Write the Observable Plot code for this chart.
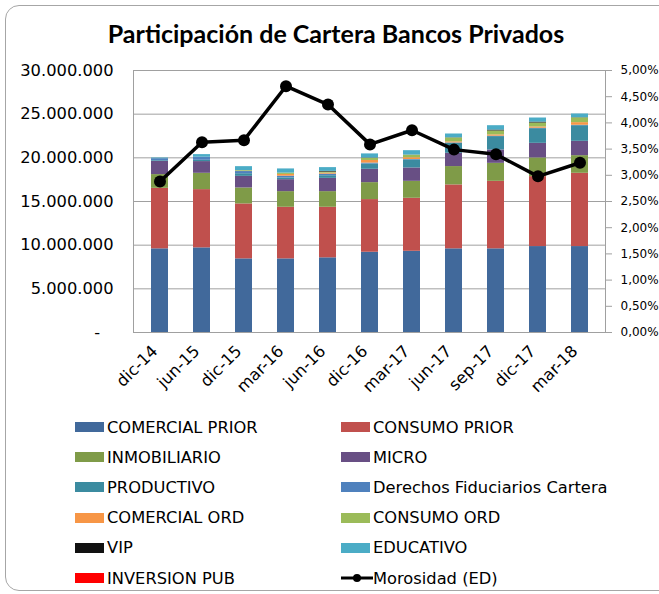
<!DOCTYPE html>
<html>
<head>
<meta charset="utf-8">
<script src="https://cdn.jsdelivr.net/npm/d3@7"></script>
<script src="https://cdn.jsdelivr.net/npm/@observablehq/plot@0.6"></script>
<style>
  html, body { margin: 0; padding: 0; background: #fff; }
  body { width: 659px; height: 594px; position: relative; overflow: hidden; font-family: "DejaVu Sans", sans-serif; }
  #frame { position: absolute; left: 5px; top: 5px; width: 670px; height: 586px; border: 1px solid #a6a6a6; border-radius: 14px; box-sizing: border-box; }
  #title { position: absolute; top: 18px; left: 0; width: 672px; text-align: center; font-family: Lato, sans-serif; font-weight: 700; font-size: 25px; line-height: 30px; color: #000; }
  #chart { position: absolute; top: 55px; left: 0; }
  #legend { position: absolute; top: 412px; left: 0; width: 659px; }
  .item { position: absolute; height: 30px; display: flex; align-items: center; font-size: 16.3px; color: #000; white-space: nowrap; }
  .sw { width: 29px; height: 10px; margin-right: 3px; }
</style>
</head>
<body>
<div id="frame"></div>
<div id="title">Participación de Cartera Bancos Privados</div>
<div id="chart"></div>
<div id="legend"></div>
<script>
const categories = ["dic-14","jun-15","dic-15","mar-16","jun-16","dic-16","mar-17","jun-17","sep-17","dic-17","mar-18"];

const comercialPrior = [9580000, 9690000, 8430000, 8430000, 8550000, 9190000, 9300000, 9580000, 9580000, 9840000, 9840000];
const consumoPrior   = [6930000, 6670000, 6290000, 5910000, 5790000, 6030000, 6070000, 7320000, 7730000, 8010000, 8390000];
const inmobiliario   = [1570000, 1870000, 1830000, 1790000, 1790000, 1940000, 1940000, 2100000, 2060000, 2140000, 2020000];
const micro          = [1520000, 1340000, 1330000, 1370000, 1520000, 1530000, 1530000, 1520000, 1530000, 1670000, 1640000];
const productivo     = [80000, 150000, 300000, 200000, 300000, 610000, 920000, 1140000, 1530000, 1680000, 1790000];
const derechosFid    = [220000, 350000, 250000, 200000, 180000, 100000, 50000, 50000, 50000, 50000, 50000];
const comercialOrd   = [0, 0, 30000, 200000, 120000, 300000, 200000, 120000, 150000, 150000, 300000];
const consumoOrd     = [0, 0, 80000, 150000, 120000, 250000, 300000, 450000, 450000, 450000, 550000];
const vip            = [0, 0, 0, 0, 80000, 30000, 10000, 20000, 100000, 100000, 20000];
const educativo      = [80000, 300000, 450000, 480000, 430000, 470000, 500000, 430000, 500000, 470000, 420000];
const inversionPub   = [0, 0, 0, 0, 0, 0, 0, 0, 0, 0, 0];

const morosidad = [2.88, 3.63, 3.67, 4.70, 4.35, 3.59, 3.86, 3.49, 3.40, 2.98, 3.24]; // percent

const seriesNames = ["COMERCIAL PRIOR","CONSUMO PRIOR","INMOBILIARIO","MICRO","PRODUCTIVO","Derechos Fiduciarios Cartera","COMERCIAL ORD","CONSUMO ORD","VIP","EDUCATIVO","INVERSION PUB"];
const seriesValues = [comercialPrior, consumoPrior, inmobiliario, micro, productivo, derechosFid, comercialOrd, consumoOrd, vip, educativo, inversionPub];
const seriesColors = ["#41699b","#c0504d","#7f9b48","#684f84","#3b8ba0","#4f81bd","#f79646","#9bbb59","#111111","#4bacc6","#ff0000"];

const leftTicks = [0, 5000000, 10000000, 15000000, 20000000, 25000000, 30000000];
const rightTicksPct = [0, 0.5, 1, 1.5, 2, 2.5, 3, 3.5, 4, 4.5, 5];

const yMax = 30000000;
const pctMax = 5;
const pctToY = p => p / pctMax * yMax;

const barData = [];
seriesNames.forEach((s, k) => {
  categories.forEach((c, i) => barData.push({cat: c, serie: s, value: seriesValues[k][i]}));
});
const lineData = categories.map((c, i) => ({cat: c, y: pctToY(morosidad[i])}));

const fmtLeft = d => d === 0 ? "-\u2002\u00a0" : d3.format(",")(d).replace(/,/g, ".");
const fmtRight = d => (d / yMax * pctMax).toFixed(2).replace(".", ",") + "%";

const chart = Plot.plot({
  width: 659,
  height: 355,
  marginTop: 15,
  marginBottom: 78,
  marginLeft: 133,
  marginRight: 54,
  style: {fontFamily: "DejaVu Sans, sans-serif", fontSize: "16.3px", color: "#000", background: "transparent"},
  x: {domain: categories, type: "band", paddingInner: 0.6, paddingOuter: 0.3, label: null},
  y: {domain: [0, yMax], nice: false, label: null},
  color: {domain: seriesNames, range: seriesColors},
  marks: [
    Plot.gridY(leftTicks, {stroke: "#a0a0a0", strokeOpacity: 1, strokeWidth: 1}),
    Plot.barY(barData, {x: "cat", y: "value", fill: "serie", order: seriesNames}),
    Plot.frame({stroke: "#a0a0a0", strokeWidth: 1}),
    Plot.axisY(leftTicks, {anchor: "left", tickSize: 0, tickPadding: 20, tickFormat: fmtLeft, fontSize: 16.3, label: null}),
    Plot.axisY(rightTicksPct.map(pctToY), {anchor: "right", tickSize: 6, tickPadding: 9, stroke: "#a0a0a0", tickFormat: fmtRight, fontSize: 12, label: null}),
    Plot.axisX({tickRotate: -45, tickSize: 0, tickPadding: 16, dx: -5, fontSize: 16.3, label: null}),
    Plot.line(lineData, {x: "cat", y: "y", stroke: "#000", strokeWidth: 3.5}),
    Plot.dot(lineData, {x: "cat", y: "y", r: 6, fill: "#000"})
  ]
});
document.getElementById("chart").appendChild(chart);

// Legend
const legend = document.getElementById("legend");
const legendItems = seriesNames.map((s, k) => ({name: s, color: seriesColors[k], type: "rect"}))
  .concat([{name: "Morosidad (ED)", color: "#000", type: "line"}]);
legendItems.forEach((it, idx) => {
  const row = Math.floor(idx / 2), col = idx % 2;
  const div = document.createElement("div");
  div.className = "item";
  div.style.left = (col === 0 ? 75 : 341) + "px";
  div.style.top = (row * 30.2) + "px";
  if (it.type === "rect") {
    const sw = document.createElement("div");
    sw.className = "sw";
    sw.style.background = it.color;
    div.appendChild(sw);
  } else {
    const ns = "http://www.w3.org/2000/svg";
    const svg = document.createElementNS(ns, "svg");
    svg.setAttribute("width", 32); svg.setAttribute("height", 14);
    const ln = document.createElementNS(ns, "line");
    ln.setAttribute("x1", 0); ln.setAttribute("x2", 32); ln.setAttribute("y1", 7); ln.setAttribute("y2", 7);
    ln.setAttribute("stroke", "#000"); ln.setAttribute("stroke-width", 3);
    const c = document.createElementNS(ns, "circle");
    c.setAttribute("cx", 16); c.setAttribute("cy", 7); c.setAttribute("r", 4); c.setAttribute("fill", "#000");
    svg.appendChild(ln); svg.appendChild(c);
    div.appendChild(svg);
  }
  const t = document.createElement("span");
  t.textContent = it.name;
  div.appendChild(t);
  legend.appendChild(div);
});
</script>
</body>
</html>
